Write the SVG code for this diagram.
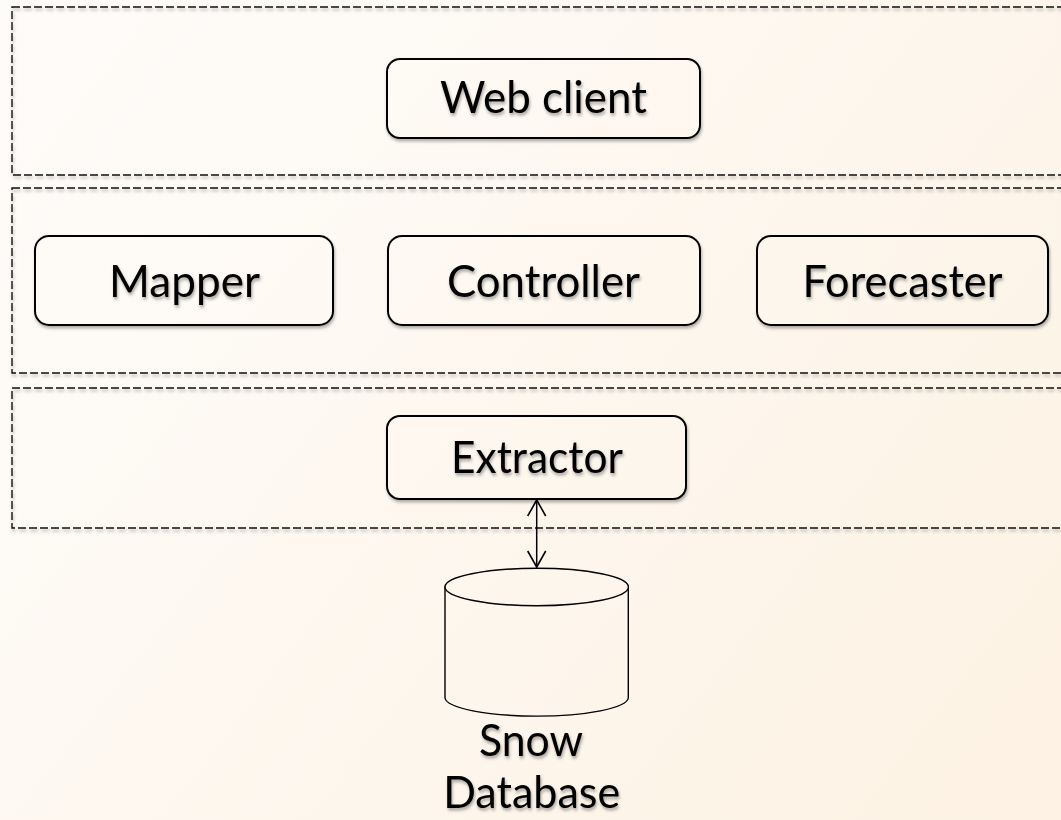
<svg xmlns="http://www.w3.org/2000/svg" width="1061" height="820" viewBox="0 0 1061 820">
  <defs>
    <linearGradient id="paper" gradientUnits="userSpaceOnUse" x1="0" y1="0" x2="1061" y2="820">
      <stop offset="0" stop-color="#fefcfa"/>
      <stop offset="1" stop-color="#fdf2e3"/>
    </linearGradient>
    <filter id="soft" x="-10%" y="-20%" width="120%" height="150%">
      <feDropShadow dx="1" dy="2.5" stdDeviation="1.8" flood-color="#000" flood-opacity="0.3"/>
    </filter>
    <filter id="textShadow" x="-10%" y="-20%" width="120%" height="150%">
      <feDropShadow dx="1" dy="2.5" stdDeviation="1.6" flood-color="#000" flood-opacity="0.35"/>
    </filter>
    <marker id="openHead" viewBox="0 0 20 20" refX="18" refY="10" markerWidth="20" markerHeight="20" markerUnits="userSpaceOnUse" orient="auto-start-reverse">
      <path d="M2 1 L18 10 L2 19" fill="none" stroke="#000" stroke-width="1.6"/>
    </marker>
    <style>
      .layer { fill: none; stroke: #111; stroke-width: 1.4; stroke-dasharray: 8 3; filter: url(#soft); }
      .box { fill: url(#paper); stroke: #000; stroke-width: 2; filter: url(#soft); }
      .label { font-family: "Lato", "Open Sans", sans-serif; font-size: 44px; fill: #000; text-anchor: middle; filter: url(#textShadow); }
      .db { fill: url(#paper); stroke: #000; stroke-width: 1.4; }
      .link { fill: none; stroke: #000; stroke-width: 1.5; }
    </style>
  </defs>

  <rect x="0" y="0" width="1061" height="820" fill="url(#paper)"/>

  <!-- layer frames -->
  <g id="layers">
    <rect class="layer" x="12" y="7" width="1070" height="168"/>
    <rect class="layer" x="12" y="188" width="1070" height="185"/>
    <rect class="layer" x="12" y="388" width="1070" height="140"/>
  </g>

  <g id="web-client">
    <rect class="box" x="387" y="59" width="313" height="79" rx="13"/>
    <text class="label" x="543.5" y="113" textLength="207" lengthAdjust="spacingAndGlyphs">Web client</text>
  </g>

  <g id="mapper">
    <rect class="box" x="35" y="236" width="298" height="89" rx="14"/>
    <text class="label" x="184.5" y="297" textLength="151" lengthAdjust="spacingAndGlyphs">Mapper</text>
  </g>

  <g id="controller">
    <rect class="box" x="388" y="236" width="312" height="89" rx="14"/>
    <text class="label" x="543.5" y="297" textLength="193" lengthAdjust="spacingAndGlyphs">Controller</text>
  </g>

  <g id="forecaster">
    <rect class="box" x="757" y="236" width="291" height="89" rx="14"/>
    <text class="label" x="902.5" y="297" textLength="200" lengthAdjust="spacingAndGlyphs">Forecaster</text>
  </g>

  <g id="extractor">
    <rect class="box" x="387" y="416" width="299" height="83" rx="13"/>
    <text class="label" x="537" y="473" textLength="172" lengthAdjust="spacingAndGlyphs">Extractor</text>
  </g>

  <g id="snow-database">
    <path class="db" d="M445 587 L445 698 A91.7 18.7 0 0 0 628.3 698 L628.3 587 A91.7 18.7 0 0 0 445 587 Z"/>
    <ellipse class="db" cx="536.7" cy="587" rx="91.7" ry="18.7"/>
    <text class="label" x="531" y="756" textLength="104" lengthAdjust="spacingAndGlyphs">Snow</text>
    <text class="label" x="531.7" y="808" textLength="177" lengthAdjust="spacingAndGlyphs">Database</text>
  </g>

  <g id="connectors">
    <line class="link" x1="536.7" y1="500" x2="536.7" y2="567" marker-start="url(#openHead)" marker-end="url(#openHead)"/>
  </g>
</svg>
